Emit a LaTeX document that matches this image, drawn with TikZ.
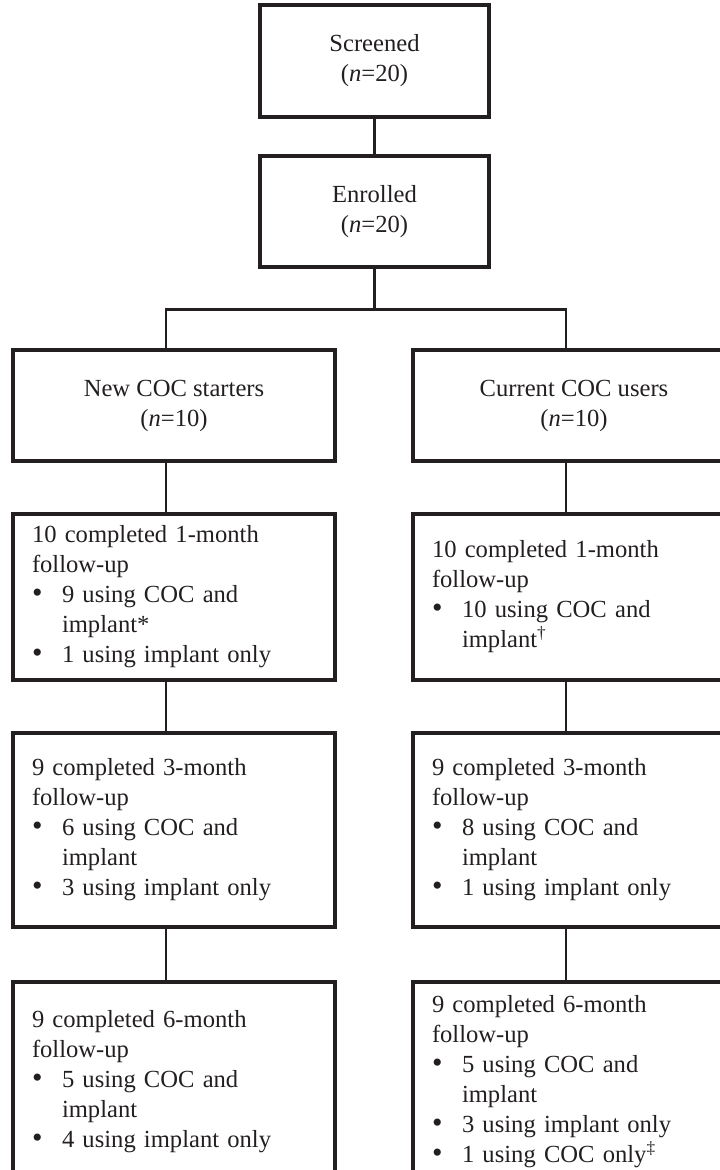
\documentclass[tikz,border=0pt]{standalone}
\usepackage{fontspec}
\setmainfont{Liberation Serif}
\usepackage{tikz}
\definecolor{ink}{HTML}{231F20}
\setlength{\parindent}{0pt}
\newcommand{\bul}{\makebox[0.6cm][l]{\smash{\fontsize{17}{17.07}\selectfont\textbullet}}}
\newcommand{\hng}{\hspace*{0.6cm}}

\begin{document}
\begin{tikzpicture}[every node/.style={font=\fontsize{14}{17.07}\selectfont, text=ink, inner sep=0pt},
  box/.style={draw=ink, line width=2.2pt, minimum width=4.58cm, align=center},
  arm/.style={draw=ink, line width=2.2pt, text width=5.68cm, inner xsep=0.38cm, align=left},
  link/.style={draw=ink, line width=1.7pt}]
\useasboundingbox (0,0) rectangle (14.4,-23.4);
\clip (0,0) rectangle (14.4,-23.4);
\node[box, minimum height=2.24cm] (scr) at (7.49,-1.22) {Screened\\(\textit{n}=20)};
\node[box, minimum height=2.22cm] (enr) at (7.49,-4.23) {Enrolled\\(\textit{n}=20)};
\node[box, minimum width=6.44cm, minimum height=2.22cm] (new) at (3.48,-8.11) {New COC starters\\(\textit{n}=10)};
\node[box, minimum width=6.44cm, minimum height=2.22cm] (cur) at (11.48,-8.11) {Current COC users\\(\textit{n}=10)};
\node[arm, minimum height=3.32cm] (new1) at (3.48,-11.94) {10 completed 1-month\\follow-up\\\bul 9 using COC and\\\hng implant*\\\bul 1 using implant only};
\node[arm, minimum height=3.32cm] (cur1) at (11.48,-11.94) {10 completed 1-month\\follow-up\\\bul 10 using COC and\\\hng implant\textsuperscript{\textdagger}};
\node[arm, minimum height=3.88cm] (new3) at (3.48,-16.60) {9 completed 3-month\\follow-up\\\bul 6 using COC and\\\hng implant\\\bul 3 using implant only};
\node[arm, minimum height=3.88cm] (cur3) at (11.48,-16.60) {9 completed 3-month\\follow-up\\\bul 8 using COC and\\\hng implant\\\bul 1 using implant only};
\node[arm, minimum height=4cm] (new6) at (3.48,-21.64) {9 completed 6-month\\follow-up\\\bul 5 using COC and\\\hng implant\\\bul 4 using implant only};
\node[arm, minimum height=4cm] (cur6) at (11.48,-21.64) {9 completed 6-month\\follow-up\\\bul 5 using COC and\\\hng implant\\\bul 3 using implant only\\\bul 1 using COC only\textsuperscript{\textdaggerdbl}};
\coordinate (colL) at (3.32,0);
\coordinate (colR) at (11.32,0);
\draw[link] (scr) -- (enr);
\draw[link] (enr.south) -- ++(0,-0.82) coordinate (split);
\draw[link] (new.north -| colL) |- (split) -| (cur.north -| colR);
\draw[link] (new.south -| colL) -- (new1.north -| colL);
\draw[link] (new1.south -| colL) -- (new3.north -| colL);
\draw[link] (new3.south -| colL) -- (new6.north -| colL);
\draw[link] (cur.south -| colR) -- (cur1.north -| colR);
\draw[link] (cur1.south -| colR) -- (cur3.north -| colR);
\draw[link] (cur3.south -| colR) -- (cur6.north -| colR);
\end{tikzpicture}
\end{document}
